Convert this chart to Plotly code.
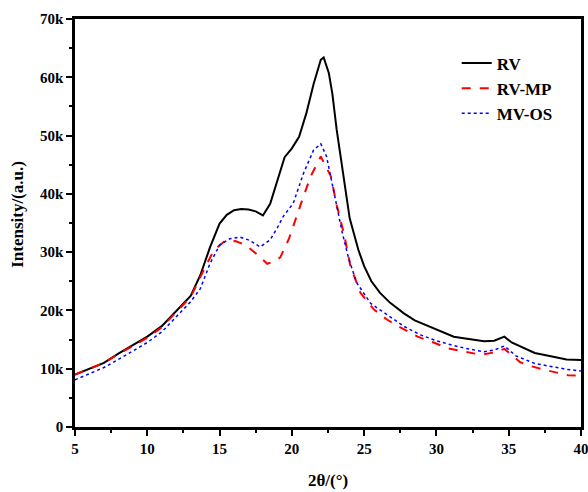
import plotly.graph_objects as go

rv_x = [5, 6, 7, 8, 9, 10, 11, 11.9, 13, 13.66, 14, 14.35, 15, 15.5, 16, 16.5, 17, 17.5, 18, 18.5, 19, 19.5, 20, 20.5, 21, 21.5, 22, 22.2, 22.56, 22.8, 23.1, 23.5, 24, 24.6, 25, 25.5, 26.1, 26.8, 27.75, 28.5, 29.6, 30.5, 31.2, 32, 33.3, 34, 34.7, 35.2, 36, 36.8, 38, 39, 40]
rv_y = [9000, 10000, 11000, 12600, 14000, 15500, 17300, 19600, 22500, 26000, 28500, 30900, 34900, 36400, 37200, 37400, 37300, 37000, 36300, 38300, 42300, 46300, 47800, 49800, 53800, 58800, 63000, 63400, 60700, 57200, 51000, 44000, 35800, 30400, 27600, 25000, 23000, 21300, 19500, 18300, 17200, 16200, 15500, 15200, 14700, 14800, 15500, 14500, 13600, 12700, 12100, 11600, 11500]

mp_x = [5, 6, 7, 8, 9, 10, 11, 11.9, 13, 13.9, 14.6, 15.3, 16.1, 16.8, 17.5, 18.3, 18.75, 19.2, 19.8, 20.6, 21.3, 22.0, 22.7, 23.1, 23.6, 24.06, 24.75, 25.7, 26.6, 27.5, 28.7, 29.8, 30.8, 32, 33.1, 34.0, 34.7, 35.8, 36.6, 37.5, 38.3, 39.1, 40]
mp_y = [9000, 10000, 11000, 12500, 13900, 15300, 17100, 19400, 22300, 26900, 30300, 31800, 31900, 31200, 29800, 28000, 28400, 29100, 32300, 38100, 43000, 46400, 43000, 38100, 33200, 27500, 23000, 20100, 18400, 17100, 15500, 14500, 13500, 12900, 12400, 12800, 13400, 11100, 10400, 9800, 9300, 8900, 8800]

os_x = [5, 6, 7, 8, 9, 10, 11, 11.9, 13, 13.66, 14.35, 15, 15.7, 16.4, 17.1, 17.8, 18.5, 19.0, 19.4, 20.1, 20.8, 21.5, 22.0, 22.4, 23.0, 23.5, 23.95, 24.5, 25.45, 26.6, 27.8, 28.9, 30, 31.0, 32, 33.3, 34.0, 34.7, 35.5, 36.8, 38, 39, 40]
os_y = [8100, 9100, 10200, 11600, 13000, 14500, 16300, 18700, 21500, 23700, 28100, 31200, 32300, 32600, 32000, 30900, 32100, 34200, 36100, 38400, 43500, 47500, 48600, 46400, 39500, 33200, 28700, 24700, 21200, 19200, 17200, 15800, 14800, 14100, 13500, 12900, 13200, 13900, 12200, 10900, 10300, 9900, 9600]

font_family = "Liberation Serif"

fig = go.Figure()
fig.add_trace(go.Scatter(x=rv_x, y=rv_y, mode="lines", name="RV",
                         line=dict(color="black", width=2)))
fig.add_trace(go.Scatter(x=mp_x, y=mp_y, mode="lines", name="RV-MP",
                         line=dict(color="red", width=2, dash="dash")))
fig.add_trace(go.Scatter(x=os_x, y=os_y, mode="lines", name="MV-OS",
                         line=dict(color="blue", width=1.5, dash="dot")))

fig.update_layout(
    width=588, height=492,
    margin=dict(l=75, r=7, t=19, b=65),
    plot_bgcolor="white", paper_bgcolor="white",
    font=dict(family=font_family, color="black", size=15, weight="bold"),
    legend=dict(x=0.954, y=0.935, xanchor="right", yanchor="top",
                bgcolor="rgba(0,0,0,0)", borderwidth=0,
                font=dict(family=font_family, size=17, color="black", weight="bold"),
                tracegroupgap=0),
    showlegend=True,
    annotations=[
        dict(text="Intensity/(a.u.)", xref="paper", yref="paper",
             x=(18 - 75) / 506, y=0.52, xanchor="center", yanchor="middle",
             textangle=-90, showarrow=False,
             font=dict(family=font_family, size=17, weight="bold")),
        dict(text="2θ/(°)", xref="paper", yref="paper",
             x=0.5, y=-0.13, xanchor="center", yanchor="middle", showarrow=False,
             font=dict(family=font_family, size=17, weight="bold")),
    ],
)
fig.update_xaxes(range=[5, 40], tickvals=[5, 10, 15, 20, 25, 30, 35, 40],
                 ticks="outside", ticklen=6, tickwidth=2, tickcolor="black",
                 minor=dict(dtick=2.5, ticks="outside", ticklen=3, tickwidth=2, tickcolor="black"),
                 showline=True, linewidth=2.5, linecolor="black", mirror=True,
                 showgrid=False, zeroline=False, automargin=False,
                 ticklabeloverflow="allow",
                 tickfont=dict(family=font_family, size=15, weight="bold"))
fig.update_yaxes(range=[0, 70000], dtick=10000, tickformat="~s",
                 ticks="outside", ticklen=6, tickwidth=2, tickcolor="black",
                 minor=dict(dtick=5000, ticks="outside", ticklen=3, tickwidth=2, tickcolor="black"),
                 showline=True, linewidth=2.5, linecolor="black", mirror=True,
                 showgrid=False, zeroline=False, automargin=False,
                 tickfont=dict(family=font_family, size=15, weight="bold"))

fig.write_html("out.html")
